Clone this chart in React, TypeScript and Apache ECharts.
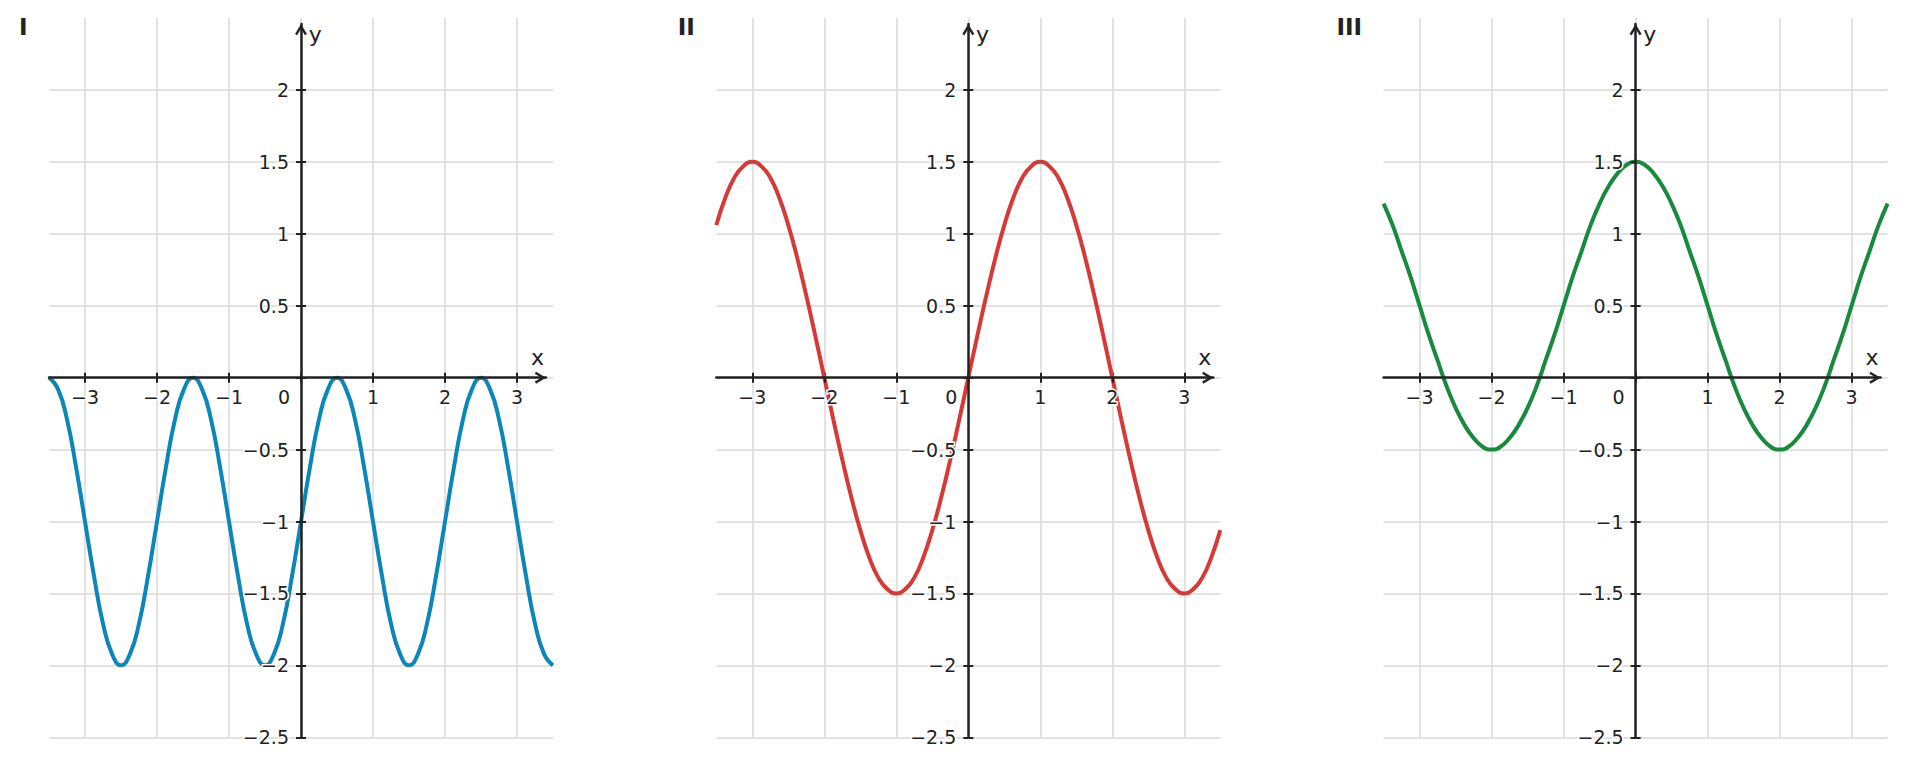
import React, { useEffect, useRef } from 'react';
import * as echarts from 'echarts';

// sample points (x step 0.125)
const xValues = [
  -3.5, -3.375, -3.25, -3.125, -3, -2.875, -2.75, -2.625, -2.5, -2.375, -2.25, -2.125,
  -2, -1.875, -1.75, -1.625, -1.5, -1.375, -1.25, -1.125, -1, -0.875, -0.75, -0.625,
  -0.5, -0.375, -0.25, -0.125, 0, 0.125, 0.25, 0.375, 0.5, 0.625, 0.75, 0.875,
  1, 1.125, 1.25, 1.375, 1.5, 1.625, 1.75, 1.875, 2, 2.125, 2.25, 2.375,
  2.5, 2.625, 2.75, 2.875, 3, 3.125, 3.25, 3.375, 3.5,
];
const waveI = [
  0, -0.08, -0.29, -0.62, -1, -1.38, -1.71, -1.92, -2, -1.92, -1.71, -1.38,
  -1, -0.62, -0.29, -0.08, 0, -0.08, -0.29, -0.62, -1, -1.38, -1.71, -1.92,
  -2, -1.92, -1.71, -1.38, -1, -0.62, -0.29, -0.08, 0, -0.08, -0.29, -0.62,
  -1, -1.38, -1.71, -1.92, -2, -1.92, -1.71, -1.38, -1, -0.62, -0.29, -0.08,
  0, -0.08, -0.29, -0.62, -1, -1.38, -1.71, -1.92, -2,
];
const waveII = [
  1.06, 1.25, 1.39, 1.47, 1.5, 1.47, 1.39, 1.25, 1.06, 0.83, 0.57, 0.29,
  0, -0.29, -0.57, -0.83, -1.06, -1.25, -1.39, -1.47, -1.5, -1.47, -1.39, -1.25,
  -1.06, -0.83, -0.57, -0.29, 0, 0.29, 0.57, 0.83, 1.06, 1.25, 1.39, 1.47,
  1.5, 1.47, 1.39, 1.25, 1.06, 0.83, 0.57, 0.29, 0, -0.29, -0.57, -0.83,
  -1.06, -1.25, -1.39, -1.47, -1.5, -1.47, -1.39, -1.25, -1.06,
];
const waveIII = [
  1.21, 1.06, 0.88, 0.7, 0.5, 0.3, 0.12, -0.06, -0.21, -0.33, -0.42, -0.48,
  -0.5, -0.48, -0.42, -0.33, -0.21, -0.06, 0.12, 0.3, 0.5, 0.7, 0.88, 1.06,
  1.21, 1.33, 1.42, 1.48, 1.5, 1.48, 1.42, 1.33, 1.21, 1.06, 0.88, 0.7,
  0.5, 0.3, 0.12, -0.06, -0.21, -0.33, -0.42, -0.48, -0.5, -0.48, -0.42, -0.33,
  -0.21, -0.06, 0.12, 0.3, 0.5, 0.7, 0.88, 1.06, 1.21,
];

const panelNames = ['I', 'II', 'III'];
const panelColors = ['#0a87b8', '#d63a36', '#188a3e'];
const xTicks = [-3, -2, -1, 0, 1, 2, 3];
const yTicks = [-2.5, -2, -1.5, -1, -0.5, 0, 0.5, 1, 1.5, 2];

const X_MIN = -3.5;
const X_MAX = 3.5;
const Y_MIN = -2.5;
const Y_MAX = 2.5;

const FONT = 'DejaVu Sans';
const INK = '#222222';
const GRIDLINE = '#d9d9d9';
const chevron = 'path://M6,0 L12,10 L9.94,11.24 L6,4.67 L2.06,11.24 L0,10 Z';

const fmt = (v: number) => String(v).replace('-', '\u2212');

const App = () => {
  const chartRef = useRef<HTMLDivElement>(null);

  useEffect(() => {
    const chart = echarts.init(chartRef.current, null, { renderer: 'svg' });
    const waves = [waveI, waveII, waveIII];
    const lefts = [41, 708.3, 1375.6];
    const top = 10;
    const W = 504;
    const H = 719.3;
    const unitX = W / (X_MAX - X_MIN);
    const unitY = H / (Y_MAX - Y_MIN);
    // distance of the zero lines from the grid's left / bottom edges
    const zeroX = unitX * (0 - X_MIN);
    const zeroY = unitY * (0 - Y_MIN);
    // the drawn axes stop a little short of the grid's top / right edges
    const cutTop = 6;
    const cutRight = 7;

    const grid: any[] = [];
    const xAxis: any[] = [];
    const yAxis: any[] = [];
    const series: any[] = [];
    const graphic: any[] = [];

    lefts.forEach((left, i) => {
      // grid 2i: gridlines + curve; grid 2i+1: the arrowed axes (same scale)
      grid.push({ left, top, width: W, height: H, outerBoundsMode: 'none', containLabel: false });
      grid.push({
        left, top: top + cutTop, width: W - cutRight, height: H - cutTop,
        outerBoundsMode: 'none', containLabel: false,
      });

      xAxis.push({
        type: 'value', gridIndex: 2 * i, position: 'bottom', offset: -zeroY,
        min: X_MIN, max: X_MAX, minInterval: 1, maxInterval: 1, z: 0,
        axisLine: { show: true, onZero: false, lineStyle: { color: 'rgba(0,0,0,0)' } },
        axisTick: { show: true, inside: true, length: 5, customValues: xTicks, lineStyle: { color: INK, width: 2 } },
        axisLabel: { show: false },
        splitLine: { show: true, showMinLine: true, showMaxLine: true, lineStyle: { color: GRIDLINE, width: 1.5 } },
      });
      xAxis.push({
        type: 'value', gridIndex: 2 * i + 1, position: 'bottom', offset: -zeroY,
        min: X_MIN, max: X_MAX - cutRight / unitX, z: 3,
        axisLine: {
          show: true, onZero: false, symbol: ['none', chevron], symbolSize: [12, 11.24],
          symbolOffset: [0, -5.6], lineStyle: { color: INK, width: 2.5 },
        },
        axisTick: { show: true, inside: false, length: 5, customValues: xTicks, lineStyle: { color: INK, width: 2 } },
        axisLabel: {
          customValues: xTicks, margin: 10,
          fontFamily: FONT, fontSize: 19, color: INK, textBorderColor: '#fff', textBorderWidth: 3,
          formatter: (v: number) => (v === 0 ? '{z|0}' : fmt(v)),
          rich: {
            z: {
              fontFamily: FONT, fontSize: 19, color: INK, padding: [0, 34, 0, 0],
              textBorderColor: '#fff', textBorderWidth: 3,
            },
          },
        },
        splitLine: { show: false },
      });

      yAxis.push({
        type: 'value', gridIndex: 2 * i, position: 'left', offset: -zeroX,
        min: Y_MIN, max: Y_MAX, interval: 0.5, z: 0,
        axisLine: { show: true, onZero: false, lineStyle: { color: 'rgba(0,0,0,0)' } },
        axisTick: { show: true, inside: true, length: 5, customValues: yTicks, lineStyle: { color: INK, width: 2 } },
        axisLabel: { show: false },
        splitLine: { show: true, showMinLine: true, showMaxLine: true, lineStyle: { color: GRIDLINE, width: 1.5 } },
      });
      yAxis.push({
        type: 'value', gridIndex: 2 * i + 1, position: 'left', offset: -zeroX,
        min: Y_MIN, max: Y_MAX - cutTop / unitY, z: 3,
        axisLine: {
          show: true, onZero: false, symbol: ['none', chevron], symbolSize: [12, 11.24],
          symbolOffset: [0, -5.6], lineStyle: { color: INK, width: 2.5 },
        },
        axisTick: { show: true, inside: false, length: 5, customValues: yTicks, lineStyle: { color: INK, width: 2 } },
        axisLabel: {
          customValues: yTicks, margin: 12,
          fontFamily: FONT, fontSize: 19, color: INK, textBorderColor: '#fff', textBorderWidth: 3,
          formatter: (v: number) => (v === 0 ? '' : fmt(v)),
        },
        splitLine: { show: false },
      });

      series.push({
        type: 'line',
        xAxisIndex: 2 * i,
        yAxisIndex: 2 * i,
        data: xValues.map((x, k) => [x, waves[i][k]]),
        smooth: true,
        showSymbol: false,
        z: 2,
        lineStyle: { color: panelColors[i], width: 4 },
      });

      // panel title
      graphic.push({
        type: 'text',
        x: left - 21.5,
        y: 7,
        style: {
          text: panelNames[i],
          font: `bold 23px "${FONT}"`,
          fill: INK,
          align: 'right',
          textAlign: 'right',
          verticalAlign: 'top',
          textVerticalAlign: 'top',
        },
      });
      // axis names
      graphic.push({
        type: 'text',
        x: left + W - 15.5,
        y: top + H - zeroY - 20.5,
        z: 10,
        style: {
          text: 'x', font: `22px "${FONT}"`, fill: INK,
          align: 'center', textAlign: 'center', verticalAlign: 'middle', textVerticalAlign: 'middle',
        },
      });
      graphic.push({
        type: 'text',
        x: left + zeroX + 14.2,
        y: top + 16,
        z: 10,
        style: {
          text: 'y', font: `22px "${FONT}"`, fill: INK,
          align: 'center', textAlign: 'center', verticalAlign: 'middle', textVerticalAlign: 'middle',
        },
      });
    });

    chart.setOption({
      animation: false,
      backgroundColor: '#ffffff',
      grid,
      xAxis,
      yAxis,
      series,
      graphic,
    });

    return () => {
      chart.dispose();
    };
  }, []);

  return <div ref={chartRef} style={{ width: '1890px', height: '750px' }} />;
};

export default App;
